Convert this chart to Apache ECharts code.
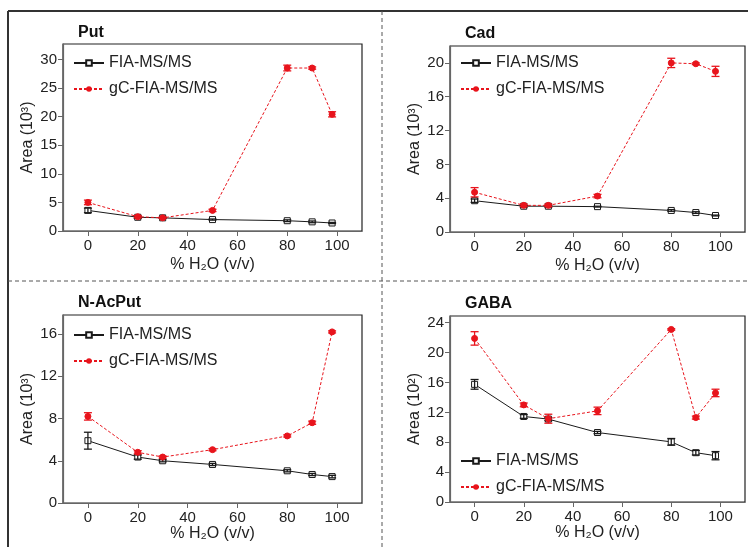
<!DOCTYPE html>
<html><head><meta charset="utf-8">
<script src="https://cdn.jsdelivr.net/npm/echarts@6/dist/echarts.min.js"></script>
<style>html,body{margin:0;padding:0;background:#fff}#c{width:748px;height:547px}</style>
</head><body><div id="c"></div>
<script>
const xs = [0, 20, 30, 50, 80, 90, 98];
const xTicks = [0, 20, 40, 60, 80, 100];
const seriesNames = ['FIA-MS/MS', 'gC-FIA-MS/MS'];
const panelTitles = ['Put', 'Cad', 'N-AcPut', 'GABA'];
const yTitles = ['Area (10³)', 'Area (10³)', 'Area (10³)', 'Area (10²)'];

const putFIA = [3.6, 2.4, 2.3, 2.0, 1.8, 1.6, 1.4];
const putFIAErr = [0.4, 0.2, 0.1, 0.1, 0.15, 0.15, 0.1];
const putGC = [5.0, 2.5, 2.3, 3.6, 28.5, 28.5, 20.4];
const putGCErr = [0.4, 0.2, 0.1, 0.2, 0.5, 0.2, 0.45];
const putYTicks = [0, 5, 10, 15, 20, 25, 30];

const cadFIA = [3.7, 3.05, 3.05, 3.0, 2.55, 2.3, 1.95];
const cadFIAErr = [0.2, 0.1, 0.1, 0.05, 0.1, 0.1, 0.05];
const cadGC = [4.7, 3.15, 3.15, 4.25, 20.0, 19.9, 19.0];
const cadGCErr = [0.55, 0.15, 0.15, 0.2, 0.55, 0.1, 0.6];
const cadYTicks = [0, 4, 8, 12, 16, 20];

const nacFIA = [5.9, 4.35, 4.0, 3.65, 3.05, 2.7, 2.5];
const nacFIAErr = [0.8, 0.2, 0.1, 0.1, 0.1, 0.1, 0.12];
const nacGC = [8.2, 4.8, 4.35, 5.05, 6.35, 7.6, 16.2];
const nacGCErr = [0.35, 0.15, 0.1, 0.1, 0.1, 0.15, 0.1];
const nacYTicks = [0, 4, 8, 12, 16];

const gabaFIA = [15.75, 11.45, 11.1, 9.3, 8.05, 6.6, 6.2];
const gabaFIAErr = [0.65, 0.25, 0.2, 0.15, 0.45, 0.3, 0.55];
const gabaGC = [21.9, 13.0, 11.15, 12.2, 23.1, 11.3, 14.6];
const gabaGCErr = [0.9, 0.25, 0.6, 0.5, 0.1, 0.2, 0.5];
const gabaYTicks = [0, 4, 8, 12, 16, 20, 24];

const RED = '#e8141c', BLK = '#1a1a1a', FONT = 'Liberation Sans';

const panels = [
  {fia: putFIA, fiaE: putFIAErr, gc: putGC, gcE: putGCErr, yt: putYTicks, ymax: 32.7, xg: 26,
   grid: {left: 63, top: 44, width: 299, height: 187}, tx: 73, ty: 20, leg: {left: 68, top: 50}},
  {fia: cadFIA, fiaE: cadFIAErr, gc: cadGC, gcE: cadGCErr, yt: cadYTicks, ymax: 22, xg: 26,
   grid: {left: 450, top: 46, width: 295, height: 186}, tx: 460, ty: 21, leg: {left: 455, top: 50}},
  {fia: nacFIA, fiaE: nacFIAErr, gc: nacGC, gcE: nacGCErr, yt: nacYTicks, ymax: 17.8, xg: 23,
   grid: {left: 63, top: 315, width: 299, height: 188}, tx: 73, ty: 290, leg: {left: 68, top: 322}},
  {fia: gabaFIA, fiaE: gabaFIAErr, gc: gabaGC, gcE: gabaGCErr, yt: gabaYTicks, ymax: 24.9, xg: 23,
   grid: {left: 450, top: 316, width: 295, height: 186}, tx: 460, ty: 291, leg: {left: 455, top: 448}}
];

const grids = [], xAxes = [], yAxes = [], series = [], titles = [], legends = [];
const axisText = {color: '#222', fontSize: 15, fontFamily: FONT};

function errSeries(i, vals, errs, color) {
  return {
    type: 'custom', xAxisIndex: i, yAxisIndex: i, silent: true, z: 5,
    data: xs.map((x, k) => [x, vals[k], errs[k]]),
    encode: {x: 0, y: 1},
    renderItem: function (params, api) {
      const x = api.value(0), y = api.value(1), e = api.value(2);
      const top = api.coord([x, y + e]), bot = api.coord([x, y - e]);
      const w = 4;
      const st = {stroke: color, lineWidth: 1.3};
      return {type: 'group', children: [
        {type: 'line', shape: {x1: top[0], y1: top[1], x2: bot[0], y2: bot[1]}, style: st},
        {type: 'line', shape: {x1: top[0] - w, y1: top[1], x2: top[0] + w, y2: top[1]}, style: st},
        {type: 'line', shape: {x1: bot[0] - w, y1: bot[1], x2: bot[0] + w, y2: bot[1]}, style: st}
      ]};
    }
  };
}

panels.forEach((p, i) => {
  grids.push(Object.assign({show: true, borderColor: '#222', borderWidth: 1.2, backgroundColor: '#fff'}, p.grid));
  xAxes.push({
    type: 'value', gridIndex: i, min: -10, max: 110,
    name: '% H₂O (v/v)', nameLocation: 'middle', nameGap: p.xg,
    nameTextStyle: {color: '#222', fontSize: 16, fontFamily: FONT},
    axisLine: {show: true, onZero: false, lineStyle: {color: '#666', width: 1.2}},
    axisTick: {show: true, inside: false, length: 5, customValues: xTicks, lineStyle: {color: '#666'}},
    axisLabel: Object.assign({customValues: xTicks, margin: 7}, axisText),
    splitLine: {show: false}
  });
  yAxes.push({
    type: 'value', gridIndex: i, min: 0, max: p.ymax,
    name: yTitles[i], nameLocation: 'middle', nameGap: 27, nameRotate: 90,
    nameTextStyle: {color: '#222', fontSize: 16, fontFamily: FONT},
    axisLine: {show: true, onZero: false, lineStyle: {color: '#666', width: 1.2}},
    axisTick: {show: true, inside: false, length: 5, customValues: p.yt, lineStyle: {color: '#666'}},
    axisLabel: Object.assign({customValues: p.yt, margin: 6}, axisText),
    splitLine: {show: false}
  });
  titles.push({text: panelTitles[i], left: p.tx, top: p.ty,
    textStyle: {fontSize: 16, fontWeight: 'bold', color: '#111', fontFamily: FONT}});
  legends.push({
    data: seriesNames, orient: 'vertical', left: p.leg.left, top: p.leg.top,
    itemWidth: 30, itemHeight: 7, itemGap: 10, selectedMode: false,
    textStyle: {fontSize: 16, color: '#222', fontFamily: FONT}
  });
  series.push({
    name: seriesNames[0], type: 'line', xAxisIndex: i, yAxisIndex: i, z: 3,
    data: xs.map((x, k) => [x, p.fia[k]]),
    symbol: 'rect', symbolSize: 6,
    lineStyle: {color: BLK, width: 1},
    itemStyle: {color: '#fff', borderColor: BLK, borderWidth: 1}
  });
  series.push(errSeries(i, p.fia, p.fiaE, BLK));
  series.push({
    name: seriesNames[1], type: 'line', xAxisIndex: i, yAxisIndex: i, z: 6,
    data: xs.map((x, k) => [x, p.gc[k]]),
    symbol: 'circle', symbolSize: 6,
    lineStyle: {color: RED, width: 1, type: [3, 2]},
    itemStyle: {color: RED, borderColor: RED}
  });
  series.push(errSeries(i, p.gc, p.gcE, RED));
});

const chart = echarts.init(document.getElementById('c'), null, {renderer: 'canvas'});
chart.setOption({
  animation: false,
  backgroundColor: '#fff',
  title: titles,
  legend: legends,
  grid: grids,
  xAxis: xAxes,
  yAxis: yAxes,
  series: series,
  graphic: [
    {type: 'line', shape: {x1: 8, y1: 11, x2: 748, y2: 11}, style: {stroke: '#333', lineWidth: 2}},
    {type: 'line', shape: {x1: 8, y1: 11, x2: 8, y2: 547}, style: {stroke: '#333', lineWidth: 2}},
    {type: 'line', shape: {x1: 382, y1: 11, x2: 382, y2: 547}, style: {stroke: '#555', lineWidth: 1, lineDash: [4, 3]}},
    {type: 'line', shape: {x1: 8, y1: 281, x2: 748, y2: 281}, style: {stroke: '#555', lineWidth: 1, lineDash: [4, 3]}}
  ]
});
</script></body></html>
